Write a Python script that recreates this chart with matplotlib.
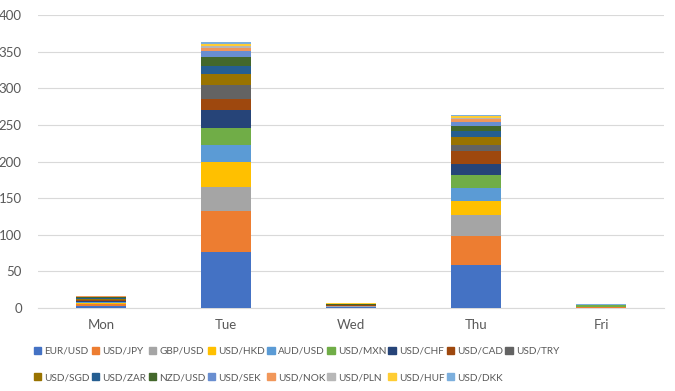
import numpy as np
import matplotlib
matplotlib.use("Agg")
import matplotlib.pyplot as plt
from matplotlib.patches import Patch

plt.rcParams["font.family"] = ["Lato", "DejaVu Sans"]

days = ["Mon", "Tue", "Wed", "Thu", "Fri"]
pairs = ["EUR/USD", "USD/JPY", "GBP/USD", "USD/HKD", "AUD/USD", "USD/MXN",
         "USD/CHF", "USD/CAD", "USD/TRY", "USD/SGD", "USD/ZAR", "NZD/USD",
         "USD/SEK", "USD/NOK", "USD/PLN", "USD/HUF", "USD/DKK"]
colors = ["#4472C4", "#ED7D31", "#A5A5A5", "#FFC000", "#5B9BD5", "#70AD47",
          "#264478", "#9E480E", "#636363", "#997300", "#255E91", "#43682B",
          "#698ED0", "#F1975A", "#B7B7B7", "#FFCD33", "#7CAFDD"]

# values per pair: Mon, Tue, Wed, Thu, Fri
eur_usd = [3.0, 77, 1.5, 59, 0.0]
usd_jpy = [2.0, 55, 0.3, 39, 1.0]
gbp_usd = [1.0, 33, 0.5, 29, 0.3]
usd_hkd = [0.5, 34, 0.2, 19, 0.1]
aud_usd = [1.0, 23, 0.3, 18, 0.2]
usd_mxn = [1.0, 24, 0.3, 17, 2.0]
usd_chf = [1.0, 24, 0.3, 16, 0.1]
usd_cad = [1.0, 16, 0.3, 17, 0.1]
usd_try = [1.0, 18, 0.5, 9, 0.1]
usd_sgd = [0.5, 15, 0.3, 10, 0.1]
usd_zar = [1.0, 12, 0.2, 9, 0.1]
nzd_usd = [1.5, 12, 0.2, 7, 0.2]
usd_sek = [1.0, 8, 0.3, 5, 0.1]
usd_nok = [0.5, 4, 0.2, 4, 0.1]
usd_pln = [0.5, 3, 0.5, 2, 0.1]
usd_huf = [0.3, 3, 0.3, 2, 0.1]
usd_dkk = [0.2, 2, 0.2, 2, 0.1]

series = [eur_usd, usd_jpy, gbp_usd, usd_hkd, aud_usd, usd_mxn, usd_chf,
          usd_cad, usd_try, usd_sgd, usd_zar, nzd_usd, usd_sek, usd_nok,
          usd_pln, usd_huf, usd_dkk]

txt = "#595959"
fig = plt.figure(figsize=(6.75, 3.91), dpi=100)
ax = fig.add_axes([0.057, 0.2123, 0.926, 0.7493])

x = np.arange(len(days))
bottom = np.zeros(len(days))
for name, vals, c in zip(pairs, series, colors):
    ax.bar(x, vals, 0.395, bottom=bottom, color=c, label=name, zorder=3)
    bottom += np.array(vals)

ax.set_xlim(-0.5, 4.5)
ax.set_ylim(0, 400)
ax.set_yticks(range(0, 401, 50))
ax.set_xticks(x)
ax.set_xticklabels(days)
ax.grid(True, axis="y", color="#d9d9d9", lw=0.8, zorder=0)
for s in ["top", "right", "left"]:
    ax.spines[s].set_visible(False)
ax.spines["bottom"].set_color("#d9d9d9")
ax.tick_params(length=0, colors=txt, labelsize=9.5)
ax.tick_params(axis="x", pad=8)
ax.tick_params(axis="y", pad=12)

# legend: reorder so rows read left to right
handles = [Patch(color=c) for c in colors]
order = []
for i in range(9):
    order.append(i)
    if i + 9 < len(pairs):
        order.append(i + 9)
leg = fig.legend([handles[i] for i in order], [pairs[i] for i in order],
                 ncol=9, loc="upper left", bbox_to_anchor=(0.05, 0.113),
                 frameon=False, fontsize=7.2, handlelength=0.75, handleheight=0.75,
                 handletextpad=0.3, columnspacing=0.22, labelspacing=1.7,
                 borderaxespad=0, borderpad=0)
for t in leg.get_texts():
    t.set_color(txt)

plt.savefig("out.png", dpi=100)
plt.close()
